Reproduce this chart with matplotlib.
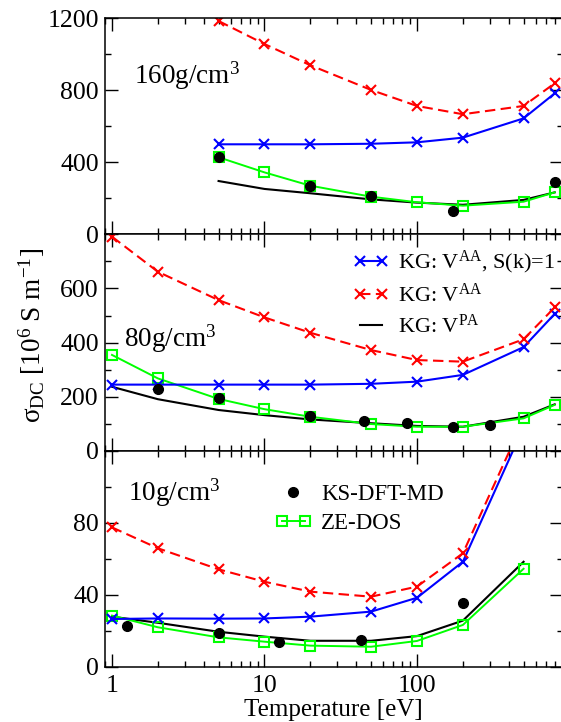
import matplotlib
matplotlib.use('Agg')
import matplotlib.pyplot as plt
from matplotlib.legend_handler import HandlerLine2D
from matplotlib.ticker import FixedLocator, LogLocator, NullFormatter, FixedFormatter

plt.rcParams['font.family'] = ['Liberation Serif', 'DejaVu Serif']
plt.rcParams['mathtext.fontset'] = 'custom'
plt.rcParams['mathtext.rm'] = 'Liberation Serif'
plt.rcParams['mathtext.it'] = 'Liberation Serif:italic'
plt.rcParams['mathtext.bf'] = 'Liberation Serif:bold'

# ---------------- data ----------------
# 160 g/cm^3
T_160 = [5, 10, 20, 50, 100, 200, 500, 800]
blue_160 = [500, 500, 500, 503, 511, 537, 644, 783]
red_160 = [1185, 1057, 939, 802, 713, 667, 713, 839]
green_160 = [428, 344, 270, 209, 178, 159, 181, 233]
black_160 = [296, 252, 228, 194, 176, 164, 191, 233]
ks_T_160 = [5, 20, 50, 172, 800]
ks_160 = [431, 268, 213, 131, 289]

# 80 g/cm^3
T_80 = [1, 2, 5, 10, 20, 50, 100, 200, 500, 800]
blue_80 = [244, 244, 244, 244, 244, 247, 255, 280, 383, 506]
red_80 = [792, 662, 557, 493, 436, 372, 335, 329, 412, 530]
green_80 = [354, 267, 191, 153, 125, 98, 88, 88, 119, 169]
black_80 = [236, 190, 150, 131, 115, 101, 91, 88, 125, 171]
ks_T_80 = [2, 5, 20, 45, 86, 172, 300]
ks_80 = [227, 193, 128, 110, 101, 88, 94]

# 10 g/cm^3
T_10 = [1, 2, 5, 10, 20, 50, 100, 200, 500]
blue_10 = [26.5, 26.8, 26.7, 26.8, 27.8, 30.6, 38.3, 58.3, 133]
red_10 = [77.4, 65.8, 54.1, 47.2, 41.7, 38.9, 44.5, 63.0, 137]
green_10 = [28.4, 21.9, 16.3, 13.9, 11.7, 11.1, 14.3, 23.2, 54.4]
black_10 = [27.8, 24.4, 19.4, 16.7, 14.4, 14.4, 17.0, 25.6, 58.3]
ks_T_10 = [1.25, 5, 12.5, 43, 200]
ks_10 = [22.6, 18.9, 13.9, 14.8, 35.6]

density_labels = ['160g/cm$^3$', '80g/cm$^3$', '10g/cm$^3$']
ylims = [(0, 1200), (0, 800), (0, 120)]
ymajor = [[0, 400, 800, 1200], [0, 200, 400, 600, 800], [0, 40, 80, 120]]
ymajor_labels = [['0', '400', '800', '1200'], ['0', '200', '400', '600', ''],
                 ['0', '40', '80', '']]
yminor = [[200, 600, 1000], [100, 300, 500, 700], [20, 60, 100]]
xticks = [1, 10, 100]
xtick_labels = ['1', '10', '100']

legend_labels = ['KG: V$^{\\mathrm{AA}}$, S(k)=1', 'KG: V$^{\\mathrm{AA}}$',
                 'KG: V$^{\\mathrm{PA}}$', 'KS-DFT-MD', 'ZE-DOS']

# ---------------- figure ----------------
W, H = 561, 722
fig = plt.figure(figsize=(W / 100, H / 100), dpi=100)
left = 105 / W
width = 457.5 / W
ph = 216 / H
bottoms = [1 - 234.3 / H, 1 - 450.5 / H, 1 - 666.7 / H]
axes = [fig.add_axes([left, b, width, ph]) for b in bottoms]

BLUE, RED, GREEN, BLACK = '#0000ff', '#ff0000', '#00ff00', '#000000'
xkw = dict(marker='x', ms=7, mew=1.5)

panels = [
    (T_160, blue_160, red_160, green_160, black_160, ks_T_160, ks_160),
    (T_80, blue_80, red_80, green_80, black_80, ks_T_80, ks_80),
    (T_10, blue_10, red_10, green_10, black_10, ks_T_10, ks_10),
]

handles = None
for i, (ax, (T, b, r, g, k, kt, kv)) in enumerate(zip(axes, panels)):
    lk, = ax.plot(T, k, color=BLACK, lw=1.5)
    lg, = ax.plot(T, g, color=GREEN, lw=1.4, marker='s', ms=7.5, mfc='none', mec=GREEN, mew=1.5)
    lb, = ax.plot(T, b, color=BLUE, lw=1.5, **xkw)
    lr, = ax.plot(T, r, color=RED, lw=1.5, dashes=(5, 2.6), **xkw)
    ld, = ax.plot(kt, kv, ls='none', marker='o', ms=7, color=BLACK)
    handles = (lb, lr, lk, ld, lg)

    ax.set_xscale('log')
    ax.set_xlim(0.9, 900)
    ax.set_ylim(*ylims[i])
    ax.yaxis.set_major_locator(FixedLocator(ymajor[i]))
    ax.yaxis.set_major_formatter(FixedFormatter(ymajor_labels[i]))
    ax.yaxis.set_minor_locator(FixedLocator(yminor[i]))
    ax.xaxis.set_major_locator(FixedLocator(xticks))
    ax.xaxis.set_minor_locator(LogLocator(base=10, subs=range(2, 10)))
    ax.xaxis.set_minor_formatter(NullFormatter())
    if i == 2:
        ax.xaxis.set_major_formatter(FixedFormatter(xtick_labels))
    else:
        ax.xaxis.set_major_formatter(NullFormatter())
    ax.tick_params(which='both', direction='in', top=True, right=True, labelsize=18.5, width=1.0)
    ax.tick_params(which='major', length=9.4)
    ax.tick_params(which='minor', length=4.3)
    ax.tick_params(axis='y', which='major', pad=4.5)
    ax.tick_params(axis='x', which='major', pad=5.8)
    for s in ax.spines.values():
        s.set_linewidth(1.1)

# density annotations
axes[0].text((134.4 - 105) / 457.5, (234.3 - 83.3) / 216, density_labels[0],
             transform=axes[0].transAxes, fontsize=19.5, va='baseline', ha='left')
axes[1].text((123.7 - 105) / 457.5, (450.5 - 346.7) / 216, density_labels[1],
             transform=axes[1].transAxes, fontsize=19.5, va='baseline', ha='left')
axes[2].text((128.3 - 105) / 457.5, (666.7 - 500.7) / 216, density_labels[2],
             transform=axes[2].transAxes, fontsize=19.5, va='baseline', ha='left')

lb, lr, lk, ld, lg = handles
leg1 = axes[1].legend([lb, lr, lk], legend_labels[:3], loc='upper left',
                      bbox_to_anchor=((353.3 - 105) / 457.5, (450.5 - 249) / 216),
                      frameon=False, fontsize=16, numpoints=2, handlelength=1.6,
                      handletextpad=0.4, borderpad=0, borderaxespad=0, labelspacing=0.35)
leg2 = axes[2].legend([ld, lg], legend_labels[3:], loc='upper left',
                      bbox_to_anchor=((275 - 105) / 457.5, (666.7 - 484.4) / 216),
                      frameon=False, fontsize=16.5, numpoints=2, handlelength=1.6,
                      handletextpad=0.4, borderpad=0, borderaxespad=0, labelspacing=0.34,
                      handler_map={ld: HandlerLine2D(numpoints=1)})

axes[2].set_xlabel('Temperature [eV]', fontsize=18)
axes[2].xaxis.set_label_coords(0.5, (666.7 - 716) / 216)
axes[2].xaxis.label.set_va('baseline')

axes[1].set_ylabel('σ$_{\\mathrm{DC}}$ [10$^{6}$ S m$^{-1}$]', fontsize=19.5)
axes[1].yaxis.set_label_coords((32 - 105) / 457.5, (450.5 - 335) / 216)
axes[1].yaxis.label.set_va('center')

fig.savefig('out.png', dpi=100)
